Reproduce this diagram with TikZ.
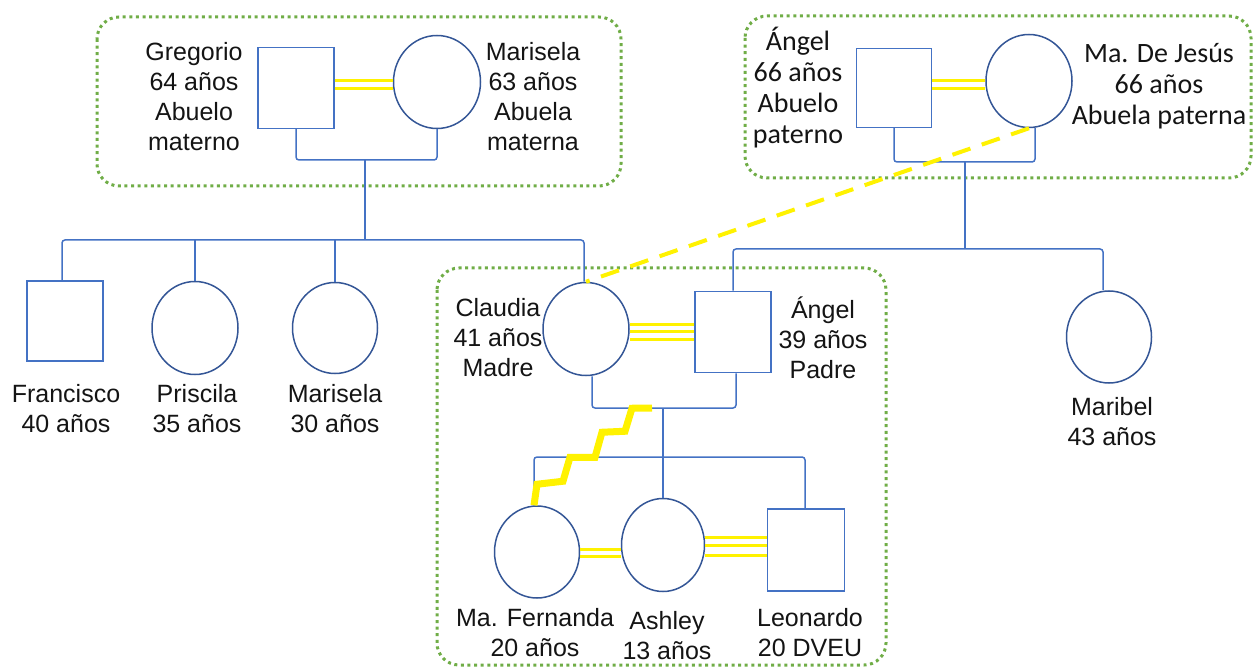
\documentclass[tikz,border=0pt]{standalone}
\usepackage{fontspec}
\setmainfont{Liberation Sans}
\newfontfamily\carl{Carlito}
\usetikzlibrary{shapes.geometric}
\definecolor{blueSq}{RGB}{68,114,196}
\definecolor{blueCi}{RGB}{52,86,150}
\definecolor{yel}{RGB}{255,242,0}
\definecolor{grn}{RGB}{112,173,71}
\definecolor{txt}{RGB}{20,20,20}
\tikzset{
  male/.style={draw=blueSq, line width=1.5pt, rectangle, inner sep=0pt},
  female/.style={draw=blueCi, line width=1.5pt, ellipse, inner sep=0pt},
  conn/.style={draw=blueSq, line width=1.5pt, rounded corners=3pt},
  marr/.style={draw=yel, line width=3pt},
  zig/.style={draw=yel, line width=7pt, line join=miter},
  dashy/.style={draw=yel, line width=4pt, dash pattern=on 19pt off 12pt},
  grp/.style={draw=grn, line width=3pt, dash pattern=on 3pt off 3.6pt, rounded corners=22pt},
  lbl/.style={align=center, text=txt, inner sep=0pt, font=\fontsize{25}{30}\selectfont},
  lblc/.style={align=center, text=txt, inner sep=0pt, font=\carl\fontsize{28}{31}\selectfont},
}
\begin{document}
\begin{tikzpicture}[x=1pt,y=-1pt]
\useasboundingbox (0,0) rectangle (1256,668);
% group frames
\draw[grp] (97,17) rectangle (621,186);
\draw[grp] (745,16) rectangle (1251,178);
\draw[grp] (437,268) rectangle (886,665);

% people
\node[male, minimum width=76pt, minimum height=81pt] (greg) at (296,88) {};
\node[female, minimum width=87pt, minimum height=93pt] (mari) at (437,82) {};
\node[male, minimum width=76pt, minimum height=80pt] (fran) at (65,321) {};
\node[female, minimum width=86pt, minimum height=93pt] (pris) at (195,328) {};
\node[female, minimum width=85pt, minimum height=91pt] (mars) at (335,328) {};
\node[female, minimum width=86pt, minimum height=93pt] (clau) at (586,329) {};
\node[male, minimum width=76pt, minimum height=81pt] (angp) at (733,332) {};
\node[male, minimum width=75pt, minimum height=79pt] (angg) at (894,88) {};
\node[female, minimum width=86pt, minimum height=93pt] (mdj) at (1029,81) {};
\node[female, minimum width=85pt, minimum height=92pt] (marb) at (1109,337) {};
\node[female, minimum width=85pt, minimum height=92pt] (fern) at (537,552) {};
\node[female, minimum width=83pt, minimum height=93pt] (ashl) at (663,545) {};
\node[male, minimum width=77pt, minimum height=82pt] (leon) at (806,550) {};

% labels
\node[lbl] (gregT) at (194,97) {Gregorio\\64 años\\Abuelo\\materno};
\node[lbl] (mariT) at (533,97) {Marisela\\63 años\\Abuela\\materna};
\node[lblc] (anggT) at (798,88) {Ángel\\66 años\\Abuelo\\paterno};
\node[lblc] (mdjT) at (1159,86) {Ma. De Jesús\\66 años\\Abuela paterna};
\node[lbl] (franT) at (66,409) {Francisco\\40 años};
\node[lbl] (prisT) at (197,409) {Priscila\\35 años};
\node[lbl] (marsT) at (335,409) {Marisela\\30 años};
\node[lbl] (clauT) at (498,338) {Claudia\\41 años\\Madre};
\node[lbl] (angpT) at (823,338) {Ángel\\39 años\\Padre};
\node[lbl] (marbT) at (1112,422) {Maribel\\43 años};
\node[lbl] (fernT) at (535,633) {Ma. Fernanda\\20 años};
\node[lbl] (ashlT) at (667,636) {Ashley\\13 años};
\node[lbl] (leonT) at (810,633) {Leonardo\\20 DVEU};

% junction coordinates
\coordinate (jm) at (365,160);
\coordinate (sibm) at (365,240);
\coordinate (jp) at (965,162);
\coordinate (sibp) at (965,249);
\coordinate (jc) at (663,408);
\coordinate (sibc) at (663,457);
\coordinate (zz) at (652,408);

% maternal family
\draw[conn] (greg.south) |- (jm) -| (mari.south);
\draw[conn] (jm) -- (sibm);
\draw[conn] ([xshift=-3pt]fran.north) |- (sibm) -| ([xshift=-2pt]clau.north);
\draw[conn] (pris.north) -- (pris.north |- sibm);
\draw[conn] (mars.north) -- (mars.north |- sibm);

% paternal family
\draw[conn] (angg.south) |- (jp) -| ([xshift=6pt]mdj.south);
\draw[conn] (jp) -- (sibp);
\draw[conn] (angp.north) |- (sibp) -| ([xshift=-6pt]marb.north);

% nuclear family
\draw[conn] ([xshift=6pt]clau.south) |- (jc) -| ([xshift=3pt]angp.south);
\draw[conn] (jc) -- (sibc);
\draw[conn] ([xshift=-3pt]fern.north) |- (sibc) -| ([xshift=-1pt]leon.north);
\draw[conn] (ashl.north) -- (ashl.north |- sibc);

% unions
\draw[marr] (greg.east |- 0,81) -- (mari.west |- 0,81);
\draw[marr] (greg.east |- 0,89) -- (mari.west |- 0,89);
\draw[marr] (angg.east |- 0,81) -- (mdj.west |- 0,81);
\draw[marr] (angg.east |- 0,89) -- (mdj.west |- 0,89);
\draw[marr] (clau.east |- 0,325) -- (angp.west |- 0,325);
\draw[marr] (clau.east |- 0,332) -- (angp.west |- 0,332);
\draw[marr] (clau.east |- 0,340) -- (angp.west |- 0,340);
\draw[marr] (fern.east |- 0,549) -- (ashl.west |- 0,549);
\draw[marr] (fern.east |- 0,556) -- (ashl.west |- 0,556);
\draw[marr] (ashl.east |- 0,537) -- (leon.west |- 0,537);
\draw[marr] (ashl.east |- 0,545) -- (leon.west |- 0,545);
\draw[marr] (ashl.east |- 0,555) -- (leon.west |- 0,555);

% special relations
\draw[zig] ([xshift=-3pt]fern.north) -- ++(3,-21) -- ++(26,-3) -- ++(7,-24) -- ++(25,0) -- ++(7,-25) -- ++(23,-1) -- ++(7,-23) -- (zz);
\draw[dashy] (mdj.south) -- (clau.north);
\end{tikzpicture}
\end{document}
